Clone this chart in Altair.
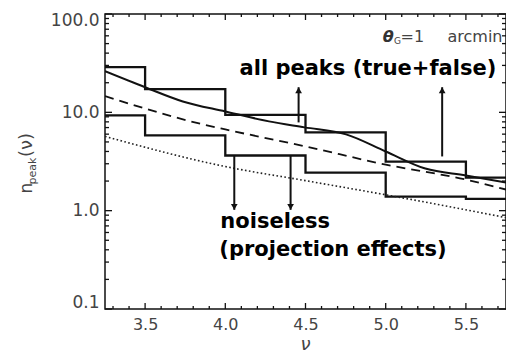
import altair as alt
import pandas as pd

# ---- data ----
bin_edges = [3.25, 3.5, 4.0, 4.5, 5.0, 5.5, 5.75]
hist_all = [28.8, 17.2, 9.43, 6.25, 3.16, 2.17]
hist_noiseless = [9.32, 5.82, 3.64, 2.44, 1.39, 1.32]

solid_nu = [3.25, 3.5, 3.735, 4.0, 4.272, 4.494, 4.753, 5.0, 5.247, 5.5, 5.75]
solid_n = [26.2, 18.0, 12.9, 10.2, 8.09, 7.03, 5.97, 4.0, 2.68, 2.28, 1.93]

dashed_nu = [3.25, 3.858, 4.0, 4.5, 5.0, 5.5, 5.75]
dashed_n = [14.6, 7.56, 6.7, 4.5, 2.94, 2.07, 1.64]

dotted_nu = [3.25, 4.0, 4.5, 5.0, 5.75]
dotted_n = [5.69, 2.81, 2.02, 1.45, 0.85]

up_arrow_nu = [4.457, 5.352]
up_arrow_from = [7.9, 3.56]
up_arrow_tip = [18.0, 18.0]

down_arrow_nu = [4.056, 4.407]
down_arrow_from = [3.64, 3.64]
down_arrow_tip = [1.02, 1.02]

x_major = [3.5, 4.0, 4.5, 5.0, 5.5]
x_minor = [3.3, 3.4, 3.6, 3.7, 3.8, 3.9, 4.1, 4.2, 4.3, 4.4, 4.6, 4.7, 4.8, 4.9,
           5.1, 5.2, 5.3, 5.4, 5.6, 5.7]
y_major = [0.1, 1.0, 10.0, 100.0]
y_minor = [0.2, 0.3, 0.4, 0.5, 0.6, 0.7, 0.8, 0.9,
           2, 3, 4, 5, 6, 7, 8, 9,
           20, 30, 40, 50, 60, 70, 80, 90]

W, H = 401, 295
INK = "#111"
GRAY = "#444"

xs = alt.Scale(domain=[3.25, 5.75], nice=False, zero=False)
ys = alt.Scale(type="log", domain=[0.1, 100], nice=False)

x_axis = alt.Axis(values=x_major, format=".1f", ticks=False, domain=False, grid=False,
                  labelFont="DejaVu Sans", labelFontSize=16, labelColor=GRAY,
                  labelPadding=7, title=None)
y_axis = alt.Axis(values=y_major, format=".1f", ticks=False, domain=False, grid=False,
                  labelFont="DejaVu Sans", labelFontSize=17, labelColor=GRAY,
                  labelPadding=6, labelFlush=True, labelFlushOffset=2, title=None)


def X(field):
    return alt.X(field, scale=xs, axis=x_axis)


def Y(field):
    return alt.Y(field, scale=ys, axis=y_axis)


def step_df(vals):
    return pd.DataFrame({"nu": bin_edges, "n": vals + [vals[-1]]})


h_all = alt.Chart(step_df(hist_all)).mark_line(
    interpolate="step-after", color=INK, strokeWidth=2.3, clip=True
).encode(x=X("nu:Q"), y=Y("n:Q"))

h_noise = alt.Chart(step_df(hist_noiseless)).mark_line(
    interpolate="step-after", color=INK, strokeWidth=2.3, clip=True
).encode(x=X("nu:Q"), y=Y("n:Q"))

solid = alt.Chart(pd.DataFrame({"nu": solid_nu, "n": solid_n})).mark_line(
    interpolate="monotone", color=INK, strokeWidth=2, clip=True
).encode(x=X("nu:Q"), y=Y("n:Q"))

dashed = alt.Chart(pd.DataFrame({"nu": dashed_nu, "n": dashed_n})).mark_line(
    interpolate="monotone", color=INK, strokeWidth=1.8, strokeDash=[9, 6], clip=True
).encode(x=X("nu:Q"), y=Y("n:Q"))

dotted = alt.Chart(pd.DataFrame({"nu": dotted_nu, "n": dotted_n})).mark_line(
    interpolate="monotone", color="#222", strokeWidth=1.6, strokeDash=[1.6, 2.4], clip=True
).encode(x=X("nu:Q"), y=Y("n:Q"))

up_df = pd.DataFrame({"nu": up_arrow_nu, "a": up_arrow_from, "b": up_arrow_tip})
down_df = pd.DataFrame({"nu": down_arrow_nu, "a": down_arrow_from, "b": down_arrow_tip})

up_shaft = alt.Chart(up_df).mark_rule(color=INK, strokeWidth=2).encode(
    x=X("nu:Q"), y=Y("a:Q"), y2="b:Q")
up_head = alt.Chart(up_df).mark_point(shape="triangle-up", filled=True, color=INK,
                                      size=45, opacity=1, yOffset=3).encode(
    x=X("nu:Q"), y=Y("b:Q"))
down_shaft = alt.Chart(down_df).mark_rule(color=INK, strokeWidth=2).encode(
    x=X("nu:Q"), y=Y("a:Q"), y2="b:Q")
down_head = alt.Chart(down_df).mark_point(shape="triangle-down", filled=True, color=INK,
                                          size=45, opacity=1, yOffset=-3).encode(
    x=X("nu:Q"), y=Y("b:Q"))

# ---- annotations ----
ann_df = pd.DataFrame({
    "nu": [4.889, 3.969, 3.963],
    "n": [27.5, 0.773, 0.40],
    "t": ["all peaks (true+false)", "noiseless", "(projection effects)"],
})
ann_center = alt.Chart(ann_df.iloc[[0]]).mark_text(
    font="DejaVu Sans", fontWeight="bold", fontSize=21, color="#000", align="center",
    baseline="middle"
).encode(x=X("nu:Q"), y=Y("n:Q"), text="t:N")
ann_left = alt.Chart(ann_df.iloc[[1, 2]]).mark_text(
    font="DejaVu Sans", fontWeight="bold", fontSize=21, color="#000", align="left",
    baseline="middle"
).encode(x=X("nu:Q"), y=Y("n:Q"), text="t:N")

theta_df = pd.DataFrame({"nu": [4.981], "n": [58.0], "t": ["θ"]})
sub_df = pd.DataFrame({"nu": [5.052], "n": [53.0], "t": ["G"]})
eq_df = pd.DataFrame({"nu": [5.093], "n": [58.0], "t": ["=1"]})
unit_df = pd.DataFrame({"nu": [5.728], "n": [58.0], "t": ["arcmin"]})
theta_t = alt.Chart(theta_df).mark_text(font="DejaVu Sans", fontSize=16, fontStyle="italic",
                                        fontWeight="bold", color="#333", align="left",
                                        baseline="middle").encode(
    x=X("nu:Q"), y=Y("n:Q"), text="t:N")
sub_t = alt.Chart(sub_df).mark_text(font="DejaVu Sans", fontSize=9, color=GRAY, align="left",
                                    baseline="middle").encode(
    x=X("nu:Q"), y=Y("n:Q"), text="t:N")
eq_t = alt.Chart(eq_df).mark_text(font="DejaVu Sans", fontSize=16, color=GRAY, align="left",
                                  baseline="middle").encode(
    x=X("nu:Q"), y=Y("n:Q"), text="t:N")
unit_t = alt.Chart(unit_df).mark_text(font="DejaVu Sans", fontSize=16, color=GRAY, align="right",
                                      baseline="middle").encode(
    x=X("nu:Q"), y=Y("n:Q"), text="t:N")

# ---- axis titles ----
xt = alt.Chart(pd.DataFrame({"t": ["ν"]})).mark_text(
    font="DejaVu Sans", fontSize=18, fontStyle="italic", color=GRAY, align="center",
    baseline="bottom"
).encode(x=alt.value(W / 2), y=alt.value(H + 45), text="t:N")

yt_main = alt.Chart(pd.DataFrame({"t": ["n"]})).mark_text(
    font="DejaVu Sans", fontSize=17, color=GRAY, angle=270, align="center", baseline="middle"
).encode(x=alt.value(-78), y=alt.value(174), text="t:N")
yt_sub = alt.Chart(pd.DataFrame({"t": ["peak"]})).mark_text(
    font="DejaVu Sans", fontSize=11, color=GRAY, angle=270, align="center", baseline="middle"
).encode(x=alt.value(-72), y=alt.value(157), text="t:N")
yt_par = alt.Chart(pd.DataFrame({"t": ["(ν)"]})).mark_text(
    font="DejaVu Sans", fontSize=18, color=GRAY, angle=270, align="center", baseline="middle"
).encode(x=alt.value(-78), y=alt.value(131), text="t:N")


# ---- inward ticks on all four sides ----
def xticks(vals, length):
    d = pd.DataFrame({"v": vals})
    bot = alt.Chart(d).mark_rule(color=INK, strokeWidth=1.3).encode(
        x=X("v:Q"), y=alt.value(H), y2=alt.value(H - length))
    top = alt.Chart(d).mark_rule(color=INK, strokeWidth=1.3).encode(
        x=X("v:Q"), y=alt.value(0), y2=alt.value(length))
    return [bot, top]


def yticks(vals, length):
    d = pd.DataFrame({"v": vals})
    lft = alt.Chart(d).mark_rule(color=INK, strokeWidth=1.3).encode(
        y=Y("v:Q"), x=alt.value(0), x2=alt.value(length))
    rgt = alt.Chart(d).mark_rule(color=INK, strokeWidth=1.3).encode(
        y=Y("v:Q"), x=alt.value(W), x2=alt.value(W - length))
    return [lft, rgt]


tick_layers = xticks(x_major, 6) + xticks(x_minor, 3) + yticks(y_major, 7) + yticks(y_minor, 4)

chart = alt.layer(
    h_all, h_noise, solid, dashed, dotted,
    up_shaft, up_head, down_shaft, down_head,
    ann_center, ann_left, theta_t, sub_t, eq_t, unit_t,
    xt, yt_main, yt_sub, yt_par,
    *tick_layers
).properties(
    width=W, height=H,
    autosize=alt.AutoSizeParams(type="none"),
    padding={"left": 97, "top": 6, "right": 0, "bottom": 45},
    background="white",
).configure_view(stroke=INK, strokeWidth=1.5)

chart.save("out.html", embed_options={"renderer": "svg", "actions": False})
